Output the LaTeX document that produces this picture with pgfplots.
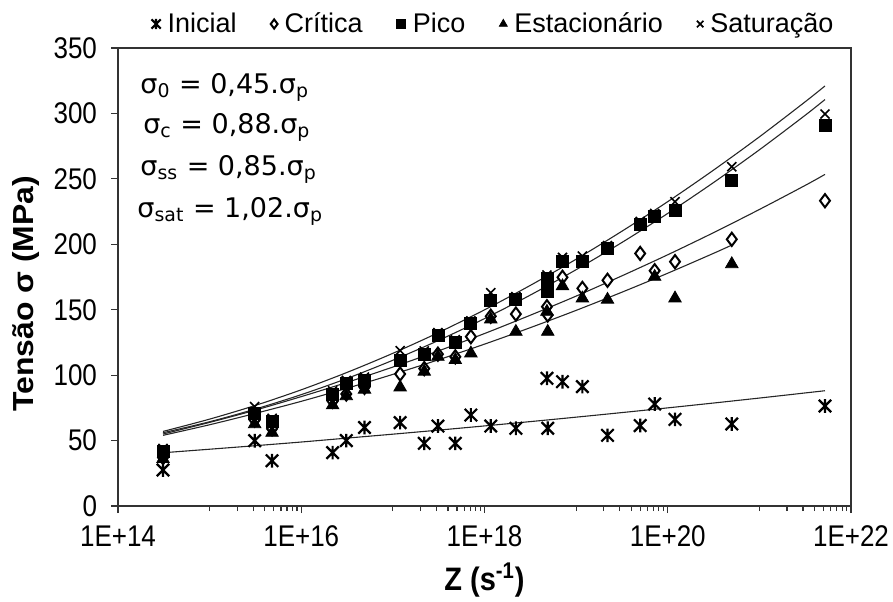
\documentclass[border=0pt]{standalone}
\usepackage{fontspec}
\setmainfont{Liberation Sans}
\newfontfamily\annfont{DejaVu Sans}
\usepackage{pgfplots}
\pgfplotsset{compat=1.18}

% Excel-style star: a cross with a vertical stroke
\pgfdeclareplotmark{xstar}{%
  \pgfpathmoveto{\pgfpoint{-\pgfplotmarksize}{-\pgfplotmarksize}}%
  \pgfpathlineto{\pgfpoint{\pgfplotmarksize}{\pgfplotmarksize}}%
  \pgfpathmoveto{\pgfpoint{-\pgfplotmarksize}{\pgfplotmarksize}}%
  \pgfpathlineto{\pgfpoint{\pgfplotmarksize}{-\pgfplotmarksize}}%
  \pgfpathmoveto{\pgfpoint{0pt}{-1.1\pgfplotmarksize}}%
  \pgfpathlineto{\pgfpoint{0pt}{1.1\pgfplotmarksize}}%
  \pgfusepathqstroke}

\begin{document}
\begin{tikzpicture}
\begin{axis}[
  scale only axis, width=366.5pt, height=229pt,
  xmode=log, log basis x=10,
  xmin=1e14, xmax=1e22, ymin=0, ymax=350,
  xtick={1e14,1e16,1e18,1e20,1e22},
  xticklabels={1E+14,1E+16,1E+18,1E+20,1E+22},
  minor xtick={1e15,2e15,3e15,4e15,5e15,6e15,7e15,8e15,9e15,
               1e17,2e17,3e17,4e17,5e17,6e17,7e17,8e17,9e17,
               1e19,2e19,3e19,4e19,5e19,6e19,7e19,8e19,9e19,
               1e21,2e21,3e21,4e21,5e21,6e21,7e21,8e21,9e21},
  ytick={0,50,...,350},
  tick pos=left, tick align=outside,
  major tick length=3.5pt, minor tick length=2.5pt,
  axis line style={black!80, line width=0.6pt},
  every tick/.style={black!80, line width=0.6pt},
  tick label style={font=\fontsize{13}{15}\selectfont, transform shape, yscale=1.15},
  xticklabel style={yshift=-2pt},
  yticklabel style={xshift=-3.5pt},
  /pgf/number format/assume math mode=true,
  xlabel={Z (s\textsuperscript{-1})},
  ylabel={Tensão σ (MPa)},
  label style={font=\bfseries\fontsize{14.5}{16}\selectfont},
  xlabel style={at={(axis description cs:0.5,0)}, anchor=center, yshift=-37pt,
                transform shape, yscale=1.12},
  ylabel style={at={(axis description cs:-0.1255,0.463)}, anchor=center,
                transform shape, xscale=1.1},
  legend columns=5,
  legend style={draw=none, fill=none, at={(0.5136,1.0524)}, anchor=center,
    font=\fontsize{13.5}{15}\selectfont,
    /tikz/every odd column/.append style={column sep=1.5pt},
    /tikz/every even column/.append style={column sep=15pt}},
  legend image code/.code={\draw[#1, mark size=2.3pt] plot coordinates {(0pt,0pt)};},
]

% fitted curves
\addplot[forget plot, smooth, black!85, line width=0.55pt] coordinates {
 (3.1e14,57) (1e15,66.4) (3.162e15,76.9) (1e16,88.8) (3.162e16,102.1)
 (1e17,116.7) (3.162e17,132.6) (1e18,149.9) (3.162e18,168.6) (1e19,188.6)
 (3.162e19,210) (1e20,232.6) (3.162e20,256.7) (1e21,282.1) (3.162e21,308.9) (5.2e21,321)};
\addplot[forget plot, smooth, black!85, line width=0.55pt] coordinates {
 (3.1e14,56) (1e15,64.4) (3.162e15,74.1) (1e16,85.1) (3.162e16,97.5)
 (1e17,111.4) (3.162e17,126.6) (1e18,143.2) (3.162e18,161.2) (1e19,180.6)
 (3.162e19,201.4) (1e20,223.6) (3.162e20,247.2) (1e21,272.2) (3.162e21,298.6) (5.2e21,310.6)};
\addplot[forget plot, smooth, black!85, line width=0.55pt] coordinates {
 (3.1e14,55) (1e15,63.9) (3.162e15,73.3) (1e16,83.6) (3.162e16,94.5)
 (1e17,106.2) (3.162e17,118.6) (1e18,131.8) (3.162e18,145.8) (1e19,160.4)
 (3.162e19,175.9) (1e20,192) (3.162e20,208.9) (1e21,226.6) (3.162e21,245) (5.2e21,253.4)};
\addplot[forget plot, smooth, black!85, line width=0.55pt] coordinates {
 (3.1e14,54) (1e15,62.1) (3.162e15,70.8) (1e16,80) (3.162e16,90)
 (1e17,100.6) (3.162e17,111.8) (1e18,123.7) (3.162e18,136.3) (1e19,149.5)
 (3.162e19,163.4) (1e20,177.9) (3.162e20,193.1) (5.0e20,199.4)};
\addplot[forget plot, smooth, black!85, line width=0.55pt] coordinates {
 (3.1e14,40.7) (1e15,43.4) (3.162e15,46.1) (1e16,48.9) (3.162e16,51.9)
 (1e17,54.9) (3.162e17,58) (1e18,61.2) (3.162e18,64.5) (1e19,67.9)
 (3.162e19,71.4) (1e20,75) (3.162e20,78.7) (1e21,82.5) (3.162e21,86.4) (5.2e21,88.1)};

% Inicial
\addplot[only marks, mark=xstar, mark size=3.1pt, line width=1.1pt, black] table {
3.1e14 27.5
3.1e15 49.9
4.8e15 34.6
2.2e16 40.8
3.1e16 50.0
4.9e16 60.0
1.2e17 63.7
2.2e17 47.9
3.1e17 61.1
4.8e17 47.9
7.1e17 69.5
1.17e18 61.1
2.2e18 59.4
4.8e18 97.6
4.9e18 59.4
7.1e18 95.0
1.17e19 91.2
2.2e19 54.0
5.0e19 61.5
7.2e19 77.9
1.2e20 66.2
5.0e20 62.7
5.2e21 76.4
};
\addlegendentry{Inicial}

% Critica
\addplot[only marks, mark=diamond*, mark size=3.3pt, line width=1pt, black, fill=white] table {
3.1e14 37
3.1e15 65.7
4.8e15 59
2.2e16 80
3.1e16 85.6
4.9e16 90.7
1.2e17 100.9
2.2e17 105
3.1e17 116
4.8e17 114
7.1e17 129.4
1.17e18 145
2.2e18 146.7
4.8e18 152.3
4.9e18 146
7.1e18 174.8
1.17e19 166.3
2.2e19 172.5
5.0e19 193
7.2e19 179.8
1.2e20 186.7
5.0e20 203.8
5.2e21 233.3
};
\addlegendentry{Crítica}

% Pico
\addplot[only marks, mark=square*, mark size=3pt, black] table {
3.1e14 41.5
3.1e15 70.8
4.8e15 64.4
2.2e16 85.6
3.1e16 93.7
4.9e16 96.3
1.2e17 111.6
2.2e17 116
3.1e17 130
4.8e17 124.8
7.1e17 139.6
1.17e18 156.9
2.2e18 157.9
4.8e18 174
4.9e18 163.8
7.1e18 186.7
1.17e19 186.7
2.2e19 196.9
5.0e19 215
7.2e19 221
1.2e20 225.7
5.0e20 249
5.2e21 291.1
};
\addlegendentry{Pico}

% Estacionario
\addplot[only marks, mark=triangle*, mark size=3.6pt, black] table {
3.1e14 36
3.1e15 62.6
4.8e15 56
2.2e16 77
3.1e16 84
4.9e16 89
1.2e17 90.7
2.2e17 102.7
3.1e17 114.1
4.8e17 111.6
7.1e17 116.7
1.17e18 142.7
2.2e18 133.2
4.8e18 148.5
4.9e18 133.2
7.1e18 168
1.17e19 158.7
2.2e19 157.7
7.2e19 175.2
1.2e20 158.7
5.0e20 184.9
};
\addlegendentry{Estacionário}

% Saturacao
\addplot[only marks, mark=x, mark size=3.2pt, line width=0.8pt, black] table {
3.1e14 44
3.1e15 76
4.8e15 67
2.2e16 88
3.1e16 96
4.9e16 98.5
1.2e17 118.7
2.2e17 118.5
3.1e17 132.5
4.8e17 127
7.1e17 141.5
1.17e18 163
2.2e18 160
4.8e18 176.5
4.9e18 166
7.1e18 190
1.17e19 191
2.2e19 199
5.0e19 217.5
7.2e19 223.5
1.2e20 232.5
5.0e20 259.3
5.2e21 299.5
};
\addlegendentry{Saturação}

% constitutive ratios
\tikzset{ratio/.style={anchor=base west, inner sep=0pt, font=\annfont\fontsize{13.5}{15}\selectfont}}
\node[ratio] at (rel axis cs:0.030,0.9017) {σ\textsubscript{0} = 0,45.σ\textsubscript{p}};
\node[ratio] at (rel axis cs:0.034,0.8144) {σ\textsubscript{c} = 0,88.σ\textsubscript{p}};
\node[ratio] at (rel axis cs:0.030,0.7227) {σ\textsubscript{ss} = 0,85.σ\textsubscript{p}};
\node[ratio] at (rel axis cs:0.026,0.6310) {σ\textsubscript{sat} = 1,02.σ\textsubscript{p}};
\end{axis}
\pgfresetboundingbox
\path[use as bounding box] (-59pt,-47.5pt) rectangle (387.5pt,253pt);
\end{tikzpicture}
\end{document}
